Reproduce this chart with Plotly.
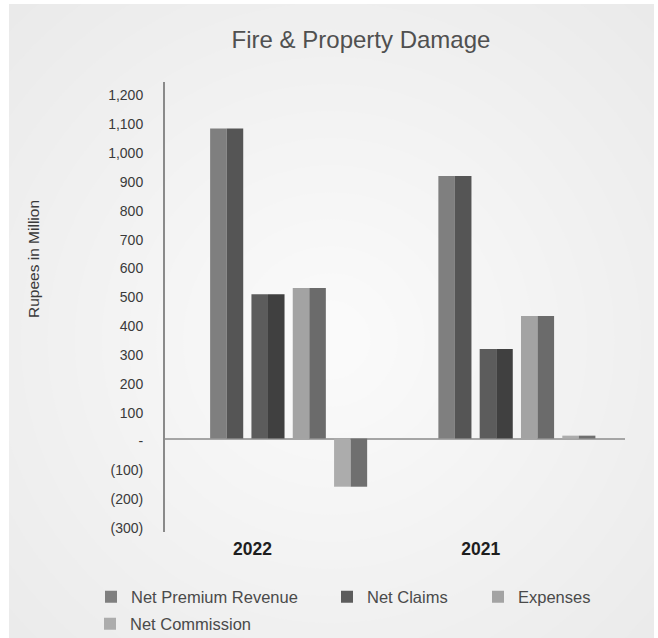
import plotly.graph_objects as go

# ---- data -------------------------------------------------------------
years = ["2022", "2021"]
series_names = ["Net Premium Revenue", "Net Claims", "Expenses", "Net Commission"]
net_premium_revenue = [1075, 910]
net_claims = [500, 310]
expenses = [522, 425]
net_commission = [-167, 10]
y_tick_values = [-300, -200, -100, 0, 100, 200, 300, 400, 500, 600,
                 700, 800, 900, 1000, 1100, 1200]

series_values = [net_premium_revenue, net_claims, expenses, net_commission]


def money(v):
    if v == 0:
        return "-"
    if v < 0:
        return f"({abs(v):,})"
    return f"{v:,}"


y_tick_text = [money(v) for v in y_tick_values]

# ---- style ------------------------------------------------------------
W, H = 658, 638
ML, MR, MT, MB = 165, 33, 82, 106
FONT = "Liberation Sans, Arial, Helvetica, sans-serif"

face_light = ["#7f7f7f", "#5c5c5c", "#a3a3a3", "#acacac"]
face_dark = ["#555555", "#404040", "#6b6b6b", "#6f6f6f"]

slot = 0.181      # width reserved per bar inside a year group
bar_w = 0.145     # drawn bar width
x_pos = list(range(len(years)))

fig = go.Figure()
for i, (name, vals) in enumerate(zip(series_names, series_values)):
    left = -2 * slot + i * slot + (slot - bar_w) / 2
    legend_id = "legend" if i == 0 else f"legend{i + 1}"
    # lit face of the bar
    fig.add_trace(go.Bar(
        x=x_pos, y=vals, name=name, width=bar_w / 2, offset=left,
        marker=dict(color=face_light[i], line=dict(width=0)),
        legend=legend_id, hoverinfo="y+name",
    ))
    # shaded face of the bar
    fig.add_trace(go.Bar(
        x=x_pos, y=vals, name=name, width=bar_w / 2, offset=left + bar_w / 2,
        marker=dict(color=face_dark[i], line=dict(width=0)),
        showlegend=False, hoverinfo="y+name",
    ))

# ---- soft radial backdrop of the card ------------------------------------
pw, ph = W - ML - MR, H - MT - MB


def px_x(x):
    return (x - ML) / pw


def px_y(y):
    return (H - MB - y) / ph


shapes = []
card = (9, 4, 654, 638)
shapes.append(dict(type="rect", xref="paper", yref="paper", layer="below",
                   x0=px_x(card[0]), x1=px_x(card[2]),
                   y0=px_y(card[3]), y1=px_y(card[1]),
                   fillcolor="#eaeaea", line=dict(width=0)))
cx, cy = 331, 340
rx0, ry0 = 330, 330
steps = 16
c_out, c_in = 0xeb, 0xfa
for k in range(steps):
    f = 1.35 - k * (1.35 - 0.12) / (steps - 1)
    c = round(c_out + (c_in - c_out) * k / (steps - 1))
    col = f"#{c:02x}{c:02x}{c:02x}"
    shapes.append(dict(type="circle", xref="paper", yref="paper", layer="below",
                       x0=px_x(cx - rx0 * f), x1=px_x(cx + rx0 * f),
                       y0=px_y(cy + ry0 * f), y1=px_y(cy - ry0 * f),
                       fillcolor=col, line=dict(width=0)))
# white surround outside the card
for (a, b, c2, d) in [(-50, -50, card[0], H + 50), (card[2], -50, W + 50, H + 50),
                      (-50, -50, W + 50, card[1]), (-50, card[3], W + 50, H + 50)]:
    shapes.append(dict(type="rect", xref="paper", yref="paper", layer="below",
                       x0=px_x(a), x1=px_x(c2), y0=px_y(d), y1=px_y(b),
                       fillcolor="#ffffff", line=dict(width=0)))

# ---- legends -----------------------------------------------------------
legend_spots = [(91, 597), (327, 597), (478, 597), (90, 624)]
legend_layouts = {}
for i, (lx, ly) in enumerate(legend_spots):
    key = "legend" if i == 0 else f"legend{i + 1}"
    legend_layouts[key] = dict(
        xref="container", yref="container", x=lx / W, y=1 - ly / H,
        xanchor="left", yanchor="middle", orientation="h",
        bgcolor="rgba(0,0,0,0)", borderwidth=0,
        font=dict(family=FONT, size=16.5, color="#4a4a4a"),
    )

fig.update_layout(
    width=W, height=H,
    margin=dict(l=ML, r=MR, t=MT, b=MB, autoexpand=False),
    paper_bgcolor="#ffffff", plot_bgcolor="rgba(0,0,0,0)",
    barmode="overlay",
    showlegend=True,
    title=dict(text="Fire &amp; Property Damage", x=(361) / W, xanchor="center",
               y=1 - 40 / H, yanchor="middle",
               font=dict(family=FONT, size=24, color="#505050")),
    xaxis=dict(range=[-0.5417, 1.4737], showgrid=False, zeroline=False,
               showline=False, ticks="",
               tickvals=[x - 0.158 for x in x_pos], ticktext=years,
               tickfont=dict(family=FONT, size=17.5, color="#1e1e1e", weight="bold"),
               ticklabelstandoff=4),
    yaxis=dict(range=[-324, 1236], showgrid=False,
               zeroline=True, zerolinecolor="#a5a5a5", zerolinewidth=2,
               showline=True, linecolor="#8a8a8a", linewidth=2,
               ticks="", tickvals=y_tick_values, ticktext=y_tick_text,
               tickfont=dict(family=FONT, size=14, color="#3a3a3a"),
               ticklabelstandoff=17, ticklabelshift=3),
    annotations=[dict(text="Rupees in Million", textangle=-90,
                      xref="paper", yref="paper", x=px_x(33), y=px_y(259),
                      xanchor="center", yanchor="middle", showarrow=False,
                      font=dict(family=FONT, size=15.5, color="#3a3a3a"))],
    shapes=shapes,
    **legend_layouts,
)

fig.write_html("out.html")
